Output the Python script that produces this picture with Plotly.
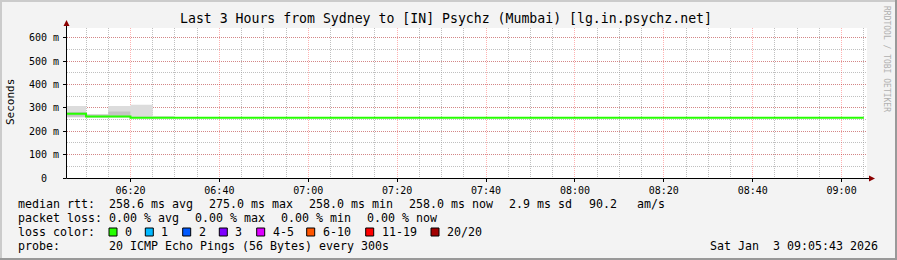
import pandas as pd
import plotly.graph_objects as go

# ---------------- data ----------------
start_time = "2026-01-03 06:05:43"
end_time = "2026-01-03 09:05:43"
last_sample = "2026-01-03 09:05:00"
bin_starts = [t.strftime("%Y-%m-%d %H:%M:%S") for t in
              pd.date_range("2026-01-03 06:05:00", "2026-01-03 09:00:00", freq="5min")]

median_ms = [275, 263, 263, 258, 258, 258, 258, 258, 258, 258, 258, 258,
             258, 258, 258, 258, 258, 258, 258, 258, 258, 258, 258, 258,
             258, 258, 258, 258, 258, 258, 258, 258, 258, 258, 258, 258]
smoke_min_ms = [259, 257, 258, 256, 257, 258, 258, 258, 258, 258, 258, 258,
                258, 258, 258, 258, 258, 258, 258, 258, 258, 258, 258, 258,
                258, 258, 258, 258, 258, 258, 258, 258, 258, 258, 258, 258]
smoke_max_ms = [308, 274, 308, 313, 265, 258, 258, 258, 258, 258, 258, 258,
                258, 258, 258, 258, 258, 258, 258, 258, 258, 258, 258, 258,
                258, 258, 258, 258, 258, 258, 258, 258, 258, 258, 258, 258]
smoke_in_lo_ms = [262, 260, 262, 257, 257, 258, 258, 258, 258, 258, 258, 258,
                  258, 258, 258, 258, 258, 258, 258, 258, 258, 258, 258, 258,
                  258, 258, 258, 258, 258, 258, 258, 258, 258, 258, 258, 258]
smoke_in_hi_ms = [282, 270, 284, 262, 259, 258, 258, 258, 258, 258, 258, 258,
                  258, 258, 258, 258, 258, 258, 258, 258, 258, 258, 258, 258,
                  258, 258, 258, 258, 258, 258, 258, 258, 258, 258, 258, 258]

y_tick_vals = [0, 0.1, 0.2, 0.3, 0.4, 0.5, 0.6]
y_tick_text = ["0\u00a0\u00a0", "100\u00a0m", "200\u00a0m", "300\u00a0m",
               "400\u00a0m", "500\u00a0m", "600\u00a0m"]
y_max = 0.641

title_text = "Last 3 Hours from Sydney to [IN] Psychz (Mumbai) [lg.in.psychz.net]"
rtt_items = ["median rtt:", "258.6 ms avg", "275.0 ms max", "258.0 ms min",
             "258.0 ms now", "2.9 ms sd", "90.2", "am/s"]
loss_items = ["packet loss:", "0.00 % avg", "0.00 % max", "0.00 % min", "0.00 % now"]
loss_labels = ["0", "1", "2", "3", "4-5", "6-10", "11-19", "20/20"]
loss_colors = ["#26ff00", "#00b8ff", "#0059ff", "#7e00ff", "#dd00ff",
               "#ff5500", "#ff0000", "#a10000"]
probe_items = ["probe:", "20 ICMP Echo Pings (56 Bytes) every 300s"]
date_text = "Sat Jan  3 09:05:43 2026"

# ---------------- layout geometry (pixels) ----------------
W, H = 897, 260
PL, PR, PT, PB = 67, 867, 28, 178
MONO = "DejaVu Sans Mono"


def px(x):
    return (x - PL) / (PR - PL)


def py(y):
    return (PB - y) / (PB - PT)


# step x positions
xs = [start_time] + bin_starts[1:] + [last_sample]


def step(vals):
    v = [a / 1000.0 for a in vals]
    return v + [v[-1]]


fig = go.Figure()
fig.add_trace(go.Scatter(x=xs, y=step(smoke_min_ms), mode="lines", line=dict(width=0, shape="hv"),
                         showlegend=False, hoverinfo="skip"))
fig.add_trace(go.Scatter(x=xs, y=step(smoke_max_ms), mode="lines", line=dict(width=0, shape="hv"),
                         fill="tonexty", fillcolor="#dcdcdc", showlegend=False, hoverinfo="skip"))
fig.add_trace(go.Scatter(x=xs, y=step(smoke_in_lo_ms), mode="lines", line=dict(width=0, shape="hv"),
                         showlegend=False, hoverinfo="skip"))
fig.add_trace(go.Scatter(x=xs, y=step(smoke_in_hi_ms), mode="lines", line=dict(width=0, shape="hv"),
                         fill="tonexty", fillcolor="#c4c4c4", showlegend=False, hoverinfo="skip"))
fig.add_trace(go.Scatter(x=xs, y=step(median_ms), mode="lines",
                         line=dict(width=2, shape="hv", color=loss_colors[0]),
                         showlegend=False, hoverinfo="skip"))

major_grid = "rgba(255,0,0,0.3)"
minor_grid = "rgba(150,150,150,0.6)"

fig.update_xaxes(type="date", range=[start_time, end_time], tick0="2026-01-03 06:00:00",
                 dtick=1200000, tickformat="%H:%M", showgrid=True, gridcolor=major_grid,
                 griddash="1px,1px", gridwidth=1, ticks="outside", ticklen=3, tickcolor="#000",
                 tickfont=dict(family=MONO, size=10, color="#000"), showline=False, zeroline=False,
                 minor=dict(dtick=300000, tick0="2026-01-03 06:00:00", showgrid=True,
                            gridcolor=minor_grid, griddash="1px,1px", gridwidth=1))
fig.update_yaxes(range=[0, y_max], tickvals=y_tick_vals, ticktext=y_tick_text, showgrid=True,
                 gridcolor=major_grid, griddash="1px,1px", gridwidth=1, ticks="outside", ticklen=3,
                 tickcolor="#000", tickfont=dict(family=MONO, size=10, color="#000"),
                 showline=False, zeroline=False, ticklabelstandoff=2,
                 minor=dict(dtick=0.05, tick0=0, showgrid=True, gridcolor=minor_grid,
                            griddash="1px,1px", gridwidth=1))

shapes = []
# frame (3D border)
light, dark = "#cbcbcb", "#999999"
shapes.append(dict(type="rect", xref="paper", yref="paper", x0=px(0), x1=px(W), y0=py(2), y1=py(0),
                   fillcolor=light, line=dict(width=0), layer="below"))
shapes.append(dict(type="rect", xref="paper", yref="paper", x0=px(0), x1=px(2), y0=py(H), y1=py(0),
                   fillcolor=light, line=dict(width=0), layer="below"))
shapes.append(dict(type="rect", xref="paper", yref="paper", x0=px(0), x1=px(W), y0=py(H), y1=py(H - 2),
                   fillcolor=dark, line=dict(width=0), layer="below"))
shapes.append(dict(type="rect", xref="paper", yref="paper", x0=px(W - 2), x1=px(W), y0=py(H), y1=py(0),
                   fillcolor=dark, line=dict(width=0), layer="below"))
# axes lines
shapes.append(dict(type="line", xref="paper", yref="paper", x0=px(66.5), x1=px(66.5), y0=py(178.5), y1=py(22),
                   line=dict(color="#000", width=1)))
shapes.append(dict(type="line", xref="paper", yref="paper", x0=px(66.5), x1=px(870), y0=py(178.5), y1=py(178.5),
                   line=dict(color="#000", width=1)))
# arrows
arrow_c = "#8b0000"
shapes.append(dict(type="path", xref="paper", yref="paper",
                   path=f"M {px(63.5)} {py(26)} L {px(69.5)} {py(26)} L {px(66.5)} {py(20)} Z",
                   fillcolor=arrow_c, line=dict(width=0)))
shapes.append(dict(type="path", xref="paper", yref="paper",
                   path=f"M {px(869)} {py(175.5)} L {px(869)} {py(181.5)} L {px(875)} {py(178.5)} Z",
                   fillcolor=arrow_c, line=dict(width=0)))

annotations = []


def text(x, y, s, size=11.63, anchor="left", color="#000", angle=0, family=MONO):
    annotations.append(dict(xref="paper", yref="paper", x=px(x), y=py(y), text=s, showarrow=False,
                            xanchor=anchor, yanchor="middle", textangle=angle,
                            font=dict(family=family, size=size, color=color)))


text(446, 19, title_text, size=13.2, anchor="center")
text(10.5, 102.5, "Seconds", size=11, anchor="center", angle=-90)
text(887, 59, "RRDTOOL / TOBI OETIKER", size=8, anchor="center", angle=90, color="#b0b0b0")

rtt_x = [16, 107.3, 207.3, 307.3, 407.3, 507.3, 586.7, 635]
for x, s in zip(rtt_x, rtt_items):
    text(x, 204.3, s)
loss_x = [16, 107.3, 193.3, 279.3, 365.3]
for x, s in zip(loss_x, loss_items):
    text(x, 218.3, s)
text(16, 232.3, "loss color:")
box_x = [109, 145.3, 182.7, 219.3, 256.7, 306.7, 365.7, 431]
for x, lab, c in zip(box_x, loss_labels, loss_colors):
    shapes.append(dict(type="rect", xref="paper", yref="paper", x0=px(x), x1=px(x + 8),
                       y0=py(236), y1=py(228), fillcolor=c, line=dict(color="#000", width=1)))
    text(x + 14, 232.3, lab)
text(16, 246, probe_items[0])
text(107.3, 246, probe_items[1])
text(880, 246, date_text, anchor="right")

fig.update_layout(width=W, height=H, autosize=False,
                  margin=dict(l=PL, r=W - PR, t=PT, b=H - PB, pad=0),
                  paper_bgcolor="#f3f3f3", plot_bgcolor="#ffffff",
                  shapes=shapes, annotations=annotations, showlegend=False)

fig.write_html("out.html")
